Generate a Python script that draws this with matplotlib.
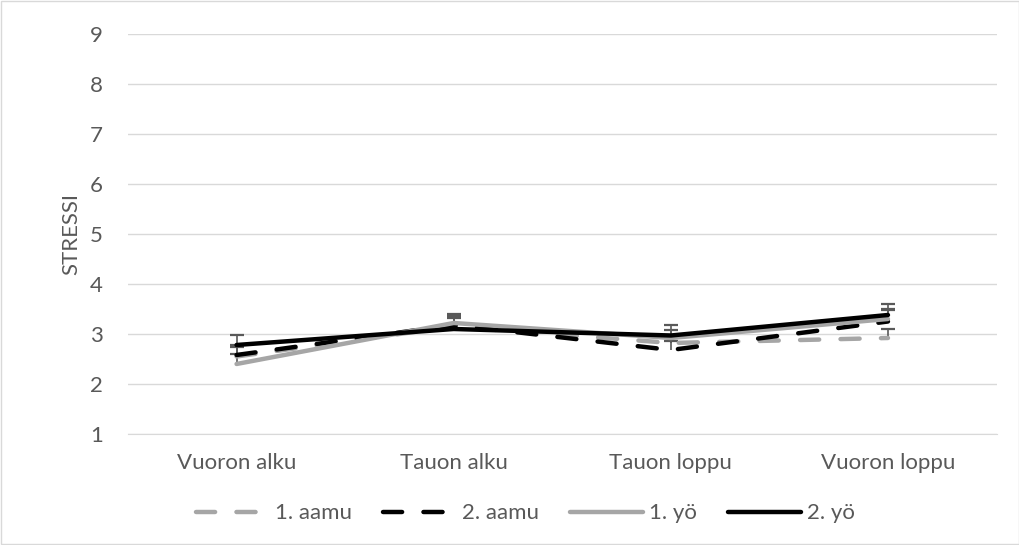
import matplotlib.pyplot as plt
import numpy as np

plt.rcParams['font.family'] = ['Lato', 'DejaVu Sans']

categories = ['Vuoron alku', 'Tauon alku', 'Tauon loppu', 'Vuoron loppu']
aamu1 = [2.55, 3.15, 2.82, 2.92]
aamu2 = [2.58, 3.18, 2.68, 3.25]
yo1 = [2.40, 3.22, 2.92, 3.30]
yo2 = [2.78, 3.10, 2.97, 3.38]
aamu1_err = [0.18, 0.18, 0.16, 0.18]
aamu2_err = [0.20, 0.20, 0.18, 0.22]
yo1_err = [0.20, 0.18, 0.16, 0.20]
yo2_err = [0.19, 0.22, 0.20, 0.22]

txt = '#595959'
fs = 16
fig = plt.figure(figsize=(10.2, 5.45), dpi=100)
ax = fig.add_axes([0.1255, 0.2037, 0.8515, 0.7339])
x = np.arange(len(categories))

dash = (0, (4.3, 4.8))
series = [
    ('1. aamu', aamu1, aamu1_err, '#a6a6a6', dash),
    ('2. aamu', aamu2, aamu2_err, '#000000', dash),
    ('1. yö', yo1, yo1_err, '#a6a6a6', '-'),
    ('2. yö', yo2, yo2_err, '#000000', '-'),
]
for name, vals, err, col, ls in series:
    top = np.array(vals) + np.array(err)
    ax.vlines(x, vals, top, color=txt, lw=1.2, zorder=2)
    ax.plot(x, top, ls='none', marker='_', ms=10, mew=1.6, color=txt, zorder=2)
for name, vals, err, col, ls in series:
    ax.plot(x, vals, color=col, lw=3.2, ls=ls, dash_capstyle='round',
            solid_capstyle='round', label=name, zorder=3)

ax.set_xlim(-0.5, 3.5)
ax.set_ylim(1, 9)
ax.set_yticks(range(1, 10))
ax.set_xticks(x)
ax.set_xticklabels(categories)
ax.grid(axis='y', color='#d9d9d9', lw=1)
ax.set_axisbelow(True)
for s in ['top', 'right', 'left']:
    ax.spines[s].set_visible(False)
ax.spines['bottom'].set_color('#d9d9d9')
ax.tick_params(length=0, colors=txt, labelsize=fs, pad=14)
ax.tick_params(axis='y', pad=18)
ax.set_ylabel('STRESSI', color=txt, fontsize=fs, labelpad=6)

leg = fig.legend(loc='center', bbox_to_anchor=(0.515, 0.058), ncol=4,
                 frameon=False, fontsize=fs, handlelength=3.3,
                 columnspacing=1.4, handletextpad=0.25)
for t in leg.get_texts():
    t.set_color(txt)

fig.patches.append(plt.Rectangle((0.001, 0.001), 0.998, 0.998, transform=fig.transFigure,
                                 fill=False, edgecolor='#d9d9d9', lw=1))
fig.savefig('out.png', dpi=100)
